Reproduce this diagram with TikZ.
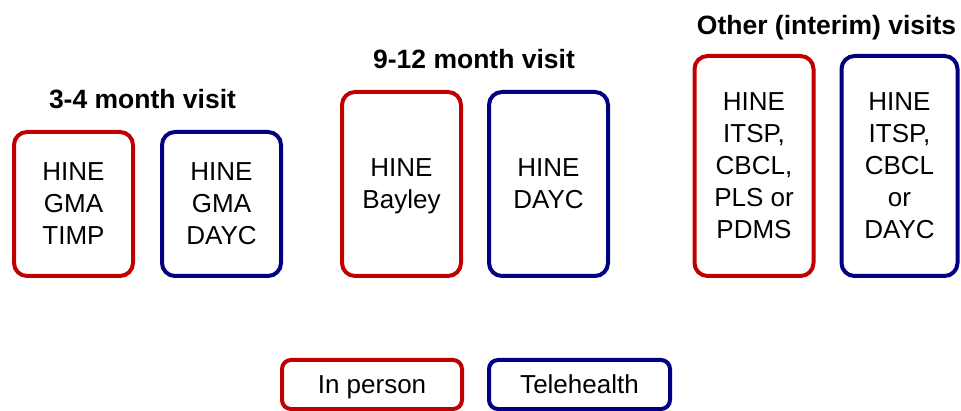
\documentclass[tikz,border=0pt]{standalone}
\usepackage{fontspec}
\setmainfont{Liberation Sans}
\usetikzlibrary{positioning}
\definecolor{personred}{RGB}{192,0,0}
\definecolor{telenavy}{RGB}{0,0,128}

\begin{document}
\begin{tikzpicture}[
    x=1pt, y=-1pt,
    visit/.style={rectangle, rounded corners=13pt, line width=4pt, minimum width=119pt, align=center, text depth=0pt, inner sep=0pt, outer sep=0pt, font=\fontsize{26}{32}\selectfont},
    inperson/.style={visit, draw=personred},
    tele/.style={visit, draw=telenavy},
    heading/.style={anchor=base, inner sep=0pt, font=\fontsize{26.5}{30}\selectfont\bfseries},
    legendbox/.style={rectangle, rounded corners=9pt, line width=4pt, minimum height=49pt, text depth=0pt, outer sep=0pt, font=\fontsize{26}{30}\selectfont}
]
\useasboundingbox (0,0) rectangle (961,411);
\clip (0,0) rectangle (961,411);

% 3-4 month visit
\node[inperson, minimum height=144pt, anchor=south] (early1) at (73.5,276) {HINE\\GMA\\TIMP};
\node[tele, minimum height=144pt, right=29pt of early1] (early2) {HINE\\GMA\\DAYC};
\node[heading] (earlyhead) at (142.5,109) {3-4 month visit};

% 9-12 month visit
\node[inperson, minimum height=184pt, anchor=south] (mid1) at (401.5,276) {HINE\\Bayley};
\node[tele, minimum height=184pt, right=28pt of mid1] (mid2) {HINE\\DAYC};
\node[heading] (midhead) at (474,69) {9-12 month visit};

% Other (interim) visits
\node[inperson, minimum height=220pt, anchor=south] (late1) at (754,276) {HINE\\ITSP,\\CBCL,\\PLS or\\PDMS};
\node[tele, minimum height=220pt, minimum width=116pt, right=28pt of late1] (late2) {HINE\\ITSP,\\CBCL\\or\\DAYC};
\node[heading] (latehead) at (826.5,35) {Other (interim) visits};

% Legend
\node[legendbox, draw=personred, minimum width=180pt] (keyperson) at (372,384.5) {In person};
\node[legendbox, draw=telenavy, minimum width=181pt, right=27pt of keyperson] (keytele) {Telehealth};

\end{tikzpicture}
\end{document}
